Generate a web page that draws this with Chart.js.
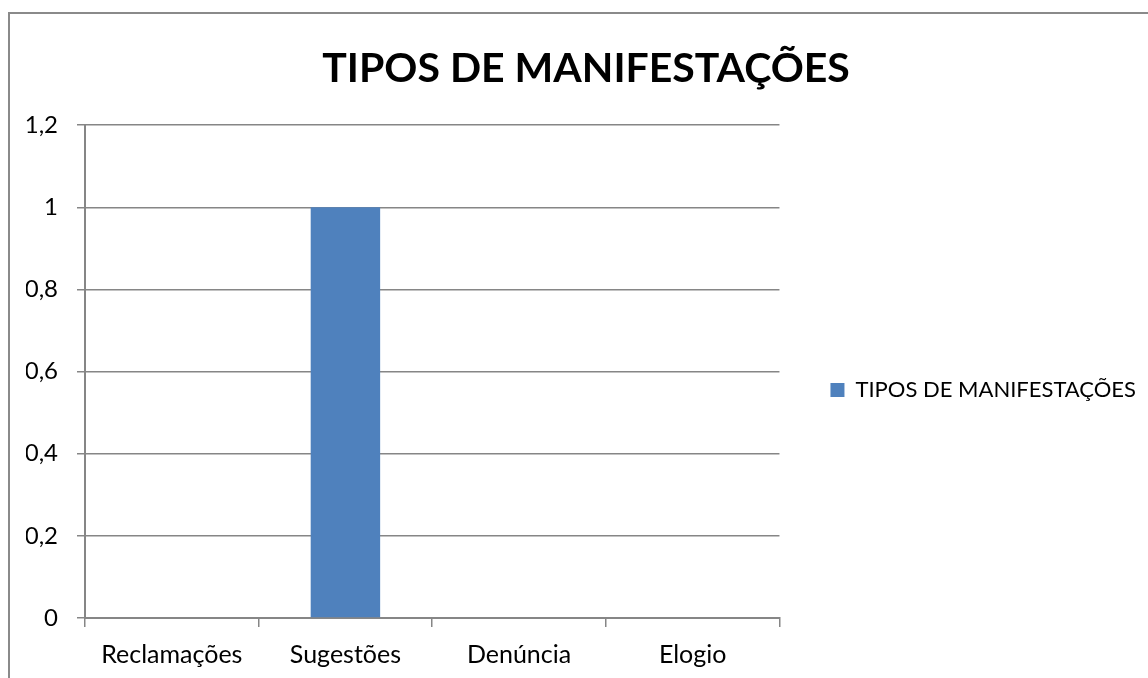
<!DOCTYPE html>
<html>
<head>
<meta charset="utf-8">
<script src="https://cdn.jsdelivr.net/npm/chart.js@4.4.1/dist/chart.umd.min.js"></script>
<style>
  html, body { margin: 0; padding: 0; background: #fff; }
  #wrap { position: relative; width: 1148px; height: 678px; overflow: hidden; }
  #frame { position: absolute; left: 8px; top: 12px; width: 1200px; height: 720px; border: 2px solid #8a8a8a; box-sizing: border-box; }
  canvas { position: absolute; left: 0; top: 0; }
</style>
</head>
<body>
<div id="wrap">
  <div id="frame"></div>
  <canvas id="chart" width="1148" height="678"></canvas>
</div>
<script>
const categories = ['Reclamações', 'Sugestões', 'Denúncia', 'Elogio'];
const seriesName = 'TIPOS DE MANIFESTAÇÕES';
const seriesValues = [0, 1, 0, 0];
const yTicks = [0, 0.2, 0.4, 0.6, 0.8, 1, 1.2];

const FONT = 'Lato, "Open Sans", sans-serif';
const GRID = '#868686';

const ctx = document.getElementById('chart');
const chart = new Chart(ctx, {
  type: 'bar',
  data: {
    labels: categories,
    datasets: [{
      label: seriesName,
      data: seriesValues,
      backgroundColor: '#4f81bd',
      borderWidth: 0,
      barPercentage: 0.4,
      categoryPercentage: 1
    }]
  },
  options: {
    responsive: false,
    animation: false,
    layout: { padding: { left: 26, right: 2, top: 0, bottom: 0 } },
    plugins: {
      title: {
        display: true,
        text: seriesName,
        color: '#000',
        font: { family: FONT, size: 41, weight: 'bold' },
        padding: { top: 44, bottom: 32 }
      },
      legend: {
        position: 'right',
        maxWidth: 600,
        // blank title only pushes the single item down a bit
        title: { display: true, text: ' ', font: { size: 10 }, padding: { top: 90, bottom: 0 } },
        labels: {
          color: '#000',
          font: { family: FONT, size: 22 },
          boxWidth: 14,
          boxHeight: 14,
          padding: 51
        }
      },
      tooltip: { enabled: false }
    },
    scales: {
      x: {
        grid: { display: true, drawOnChartArea: false, color: GRID, lineWidth: 1.5, tickLength: 9, offset: true },
        border: { color: GRID, width: 2 },
        ticks: { color: '#000', font: { family: FONT, size: 25 }, padding: 13 },
        afterFit: s => { s.height = 60; }
      },
      y: {
        min: 0,
        max: 1.2,
        afterBuildTicks: s => { s.ticks = yTicks.map(v => ({ value: v })); },
        grid: { color: GRID, lineWidth: 1.5, tickLength: 8 },
        border: { color: GRID, width: 2 },
        ticks: {
          color: '#000',
          font: { family: FONT, size: 24 },
          padding: 19,
          callback: v => String(v).replace('.', ',')
        },
        afterFit: s => { s.width = 59; }
      }
    }
  }
});
</script>
</body>
</html>
